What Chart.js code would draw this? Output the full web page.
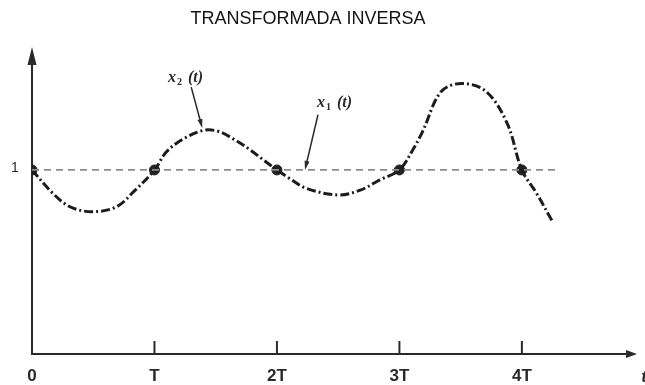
<!DOCTYPE html>
<html>
<head>
<meta charset="utf-8">
<script src="https://cdn.jsdelivr.net/npm/chart.js@4.4.0/dist/chart.umd.min.js"></script>
<style>
  html, body { margin: 0; padding: 0; background: #fff; }
  #wrap { width: 645px; height: 385px; }
</style>
</head>
<body>
<div id="wrap"><canvas id="grafico"></canvas></div>
<script>
// datos (t en unidades de T)
const tX2 = [0, 0.17, 0.31, 0.49, 0.69, 0.83, 1, 1.1, 1.24, 1.4, 1.52, 1.64, 1.78, 1.89, 2, 2.1, 2.24, 2.5, 2.68, 2.84, 3, 3.11, 3.19, 3.34, 3.51, 3.71, 3.88, 4, 4.12, 4.25];
const valoresX2 = [1, 0.873, 0.8, 0.773, 0.8, 0.882, 1, 1.1, 1.17, 1.215, 1.21, 1.17, 1.11, 1.054, 1, 0.955, 0.9, 0.864, 0.89, 0.946, 1, 1.11, 1.21, 1.425, 1.47, 1.425, 1.253, 1, 0.873, 0.719];
const tX1 = [0, 4.31];
const valoresX1 = [1, 1];
const tMuestras = [0, 1, 2, 3, 4];
const valoresMuestras = [1, 1, 1, 1, 1];
const etiquetasX = ["0", "T", "2T", "3T", "4T"];
const etiquetasY = ["1"];
const valoresEtiquetasY = [1];
const titulo = "TRANSFORMADA INVERSA";

const xMax = 4.94;
const yMax = 1.668;

const pares = (xs, ys) => xs.map((x, i) => ({ x, y: ys[i] }));

function flecha(ctx, x1, y1, x2, y2, largo, ancho) {
    const ang = Math.atan2(y2 - y1, x2 - x1);
    ctx.beginPath();
    ctx.moveTo(x1, y1);
    ctx.lineTo(x2 - Math.cos(ang) * largo * 0.6, y2 - Math.sin(ang) * largo * 0.6);
    ctx.stroke();
    ctx.beginPath();
    ctx.moveTo(x2, y2);
    ctx.lineTo(x2 - Math.cos(ang) * largo + Math.sin(ang) * ancho / 2, y2 - Math.sin(ang) * largo - Math.cos(ang) * ancho / 2);
    ctx.lineTo(x2 - Math.cos(ang) * largo - Math.sin(ang) * ancho / 2, y2 - Math.sin(ang) * largo + Math.cos(ang) * ancho / 2);
    ctx.closePath();
    ctx.fill();
}

function etiquetaX(ctx, px, py, sub) {
    // x con subindice y (t)
    ctx.textAlign = "left";
    ctx.textBaseline = "alphabetic";
    ctx.font = "italic bold 16px 'Liberation Serif', 'DejaVu Serif', serif";
    ctx.fillText("x", px, py);
    ctx.font = "bold 10px 'Liberation Serif', 'DejaVu Serif', serif";
    ctx.fillText(sub, px + 9, py + 3);
    ctx.font = "italic bold 16px 'Liberation Serif', 'DejaVu Serif', serif";
    ctx.fillText("(t)", px + 20, py);
}

// ejes con flechas, marcas y anotaciones
const ejesPlugin = {
    id: "ejes",
    beforeDatasetsDraw(chart) {
        const { ctx, chartArea: a, scales: { x, y } } = chart;
        ctx.save();
        ctx.strokeStyle = "#2a2a2a";
        ctx.fillStyle = "#2a2a2a";
        ctx.lineWidth = 2;
        const x0 = x.getPixelForValue(0);
        const y0 = y.getPixelForValue(0);
        flecha(ctx, x0, y0 + 1, x0, a.top, 18, 9);
        flecha(ctx, x0 - 1, y0, a.right, y0, 11, 8);

        // marcas del eje x
        tMuestras.slice(1).forEach(t => {
            const px = x.getPixelForValue(t);
            ctx.beginPath();
            ctx.moveTo(px, y0);
            ctx.lineTo(px, y0 - 13);
            ctx.stroke();
        });

        ctx.font = "bold 17px 'Liberation Sans', Arial, sans-serif";
        ctx.textAlign = "center";
        ctx.textBaseline = "middle";
        etiquetasX.forEach((lab, i) => {
            ctx.fillText(lab, x.getPixelForValue(tMuestras[i]), y0 + 22);
        });
        ctx.font = "italic bold 17px 'Liberation Sans', Arial, sans-serif";
        ctx.fillText("t", a.right + 7, y0 + 23);

        ctx.font = "14px 'Liberation Sans', Arial, sans-serif";
        etiquetasY.forEach((lab, i) => {
            ctx.fillText(lab, x0 - 17, y.getPixelForValue(valoresEtiquetasY[i]) - 2);
        });

        // etiquetas x2(t), x1(t)
        etiquetaX(ctx, x.getPixelForValue(1.11), y.getPixelForValue(1.478), "2");
        etiquetaX(ctx, x.getPixelForValue(2.327), y.getPixelForValue(1.342), "1");
        ctx.lineWidth = 1.5;
        flecha(ctx, x.getPixelForValue(1.30), y.getPixelForValue(1.45), x.getPixelForValue(1.39), y.getPixelForValue(1.228), 9, 5);
        flecha(ctx, x.getPixelForValue(2.335), y.getPixelForValue(1.30), x.getPixelForValue(2.229), y.getPixelForValue(1.0), 9, 5);
        ctx.restore();
    },
    afterDraw(chart) {
        const ctx = chart.ctx;
        ctx.save();
        ctx.fillStyle = "#141414";
        ctx.font = "18px 'Liberation Sans', Arial, sans-serif";
        ctx.textAlign = "center";
        ctx.textBaseline = "alphabetic";
        ctx.fillText(titulo, 308, 23.5);
        ctx.restore();
    }
};

const ctx = document.getElementById("grafico").getContext("2d");

new Chart(ctx, {
    type: "line",
    data: {
        datasets: [
            {
                label: "x1(t)",
                data: pares(tX1, valoresX1),
                borderColor: "#8c8c8c",
                borderWidth: 1.8,
                borderDash: [7, 5],
                pointRadius: 0,
                fill: false
            },
            {
                label: "x2(t)",
                data: pares(tX2, valoresX2),
                borderColor: "#1c1c1c",
                borderWidth: 3,
                borderDash: [9, 3, 2, 3],
                tension: 0.35,
                pointRadius: 0,
                fill: false
            },
            {
                label: "muestras",
                data: pares(tMuestras, valoresMuestras),
                showLine: false,
                pointRadius: 5,
                pointBackgroundColor: "#222",
                pointBorderColor: "#222"
            }
        ]
    },
    options: {
        responsive: true,
        maintainAspectRatio: false,
        animation: false,
        layout: { padding: { left: 32, right: 8, top: 47, bottom: 31 } },
        plugins: {
            legend: { display: false },
            tooltip: { enabled: false },
            title: { display: false }
        },
        scales: {
            x: { type: "linear", min: 0, max: xMax, display: false },
            y: { min: 0, max: yMax, display: false }
        }
    },
    plugins: [ejesPlugin]
});
</script>
</body>
</html>
